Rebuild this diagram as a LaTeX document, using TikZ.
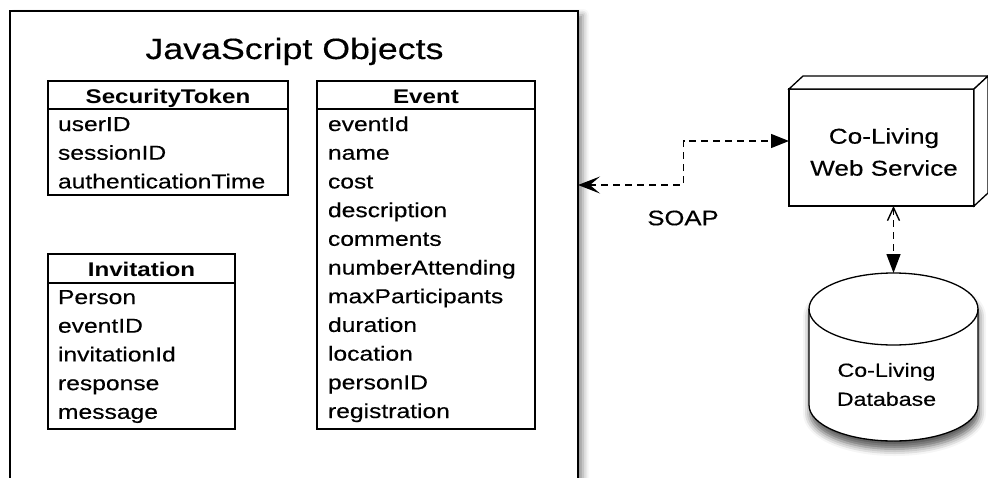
\documentclass[tikz,border=0pt]{standalone}
\usepackage{fontspec}
\setmainfont{Liberation Sans}[FakeStretch=1.22, UprightFeatures={FakeBold=0.35}]
\usetikzlibrary{arrows.meta, shadows.blur, calc}

\begin{document}
\begin{tikzpicture}[x=1pt, y=-1pt,
  every node/.style={inner sep=0pt, outer sep=0pt},
  frame/.style={draw, line width=1.3pt, rectangle, anchor=north west, fill=white},
  classname/.style={anchor=base, font=\fontsize{19.8}{24}\selectfont\bfseries},
  field/.style={anchor=base west, font=\fontsize{20.2}{24}\selectfont},
  link/.style={line width=1.4pt, dash pattern=on 7pt off 5pt},
  softshadow/.style={blur shadow={shadow xshift=5pt, shadow yshift=-4pt,
      shadow blur radius=6pt, shadow opacity=45}},
]
\useasboundingbox (0,0) rectangle (988,477);

% container for the client-side objects
\node[draw, line width=1.8pt, fill=white, anchor=north west,
      minimum width=568pt, minimum height=520pt, softshadow] (js) at (10,11) {};
\node[anchor=base, font=\fontsize{29.3}{34}\selectfont] (title) at (294.5,59) {JavaScript Objects};

% SecurityToken class
\node[frame, minimum width=240pt, minimum height=114pt] (st) at (48,81) {};
\draw[line width=1.3pt] ([yshift=-28pt]st.north west) -- ([yshift=-28pt]st.north east);
\node[classname] (st-name) at ([yshift=-22pt]st.north) {SecurityToken};
\foreach \t [count=\i from 0] in {userID,sessionID,authenticationTime}
  \node[field] (st-\i) at ($(st.north west)+(10,50+28.7*\i)$) {\t};

% Event class
\node[frame, minimum width=218pt, minimum height=348pt] (ev) at (317,81) {};
\draw[line width=1.3pt] ([yshift=-28pt]ev.north west) -- ([yshift=-28pt]ev.north east);
\node[classname] (ev-name) at ([yshift=-22pt]ev.north) {Event};
\foreach \t [count=\i from 0] in {eventId,name,cost,description,comments,numberAttending,maxParticipants,duration,location,personID,registration}
  \node[field] (ev-\i) at ($(ev.north west)+(11,50+28.7*\i)$) {\t};

% Invitation class
\node[frame, minimum width=187pt, minimum height=175pt] (inv) at (48,254) {};
\draw[line width=1.3pt] ([yshift=-29pt]inv.north west) -- ([yshift=-29pt]inv.north east);
\node[classname] (inv-name) at ([yshift=-22pt]inv.north) {Invitation};
\foreach \t [count=\i from 0] in {Person,eventID,invitationId,response,message}
  \node[field] (inv-\i) at ($(inv.north west)+(10,50+28.7*\i)$) {\t};

% web service as a 3D box
\node[draw, line width=1.3pt, fill=white, minimum width=185pt, minimum height=117pt] (ws) at (881.5,147.5) {};
\draw[line width=1.3pt, fill=white] (ws.north west) -- ++(14,-13) -- ($(ws.north east)+(14,-13)$) -- (ws.north east) -- cycle;
\draw[line width=1.3pt, fill=white] (ws.north east) -- ++(14,-13) -- ($(ws.south east)+(14,-13)$) -- (ws.south east) -- cycle;
\node[align=center, font=\fontsize{21.4}{32}\selectfont] (ws-text) at (884,152) {Co-Living\\Web Service};

% database cylinder
\node[minimum width=169pt, minimum height=168pt] (db) at (893.5,357) {};
\path[draw, line width=1.3pt, fill=white,
      blur shadow={shadow xshift=1pt, shadow yshift=-8pt, shadow blur radius=7pt, shadow opacity=65}]
  ($(db.north west)+(0,36)$) -- ($(db.south west)+(0,-36)$)
  arc[start angle=180, end angle=360, x radius=84.5pt, y radius=36pt]
  -- ($(db.north east)+(0,36)$)
  arc[start angle=0, end angle=180, x radius=84.5pt, y radius=36pt] -- cycle;
\draw[line width=1.3pt] ($(db.north west)+(0,36)$)
  arc[start angle=180, end angle=360, x radius=84.5pt, y radius=36pt];
\node[align=center, font=\fontsize{19}{29}\selectfont] (db-text) at (886.5,384.5) {Co-Living\\Database};

% SOAP connection between the objects and the web service
\coordinate (soapL) at ($(js.north east)+(0,174)$);
\coordinate (wsIn) at ([yshift=6.5pt]ws.west);
\draw[link, {Stealth[length=22pt,width=17pt,inset=10pt,fill=black]}-{Triangle[length=18pt,width=14pt,fill=black]}]
  (soapL) -| ($(soapL)!0.5!(wsIn)$) |- (wsIn);
\node[font=\fontsize{21}{25}\selectfont] (soap) at (683,218) {SOAP};

% web service <-> database
\draw[link, {Straight Barb[length=13pt,width=12pt]}-{Triangle[length=19pt,width=14pt,fill=black]}]
  (ws.south -| db.north) -- (db.north);
\end{tikzpicture}
\end{document}
